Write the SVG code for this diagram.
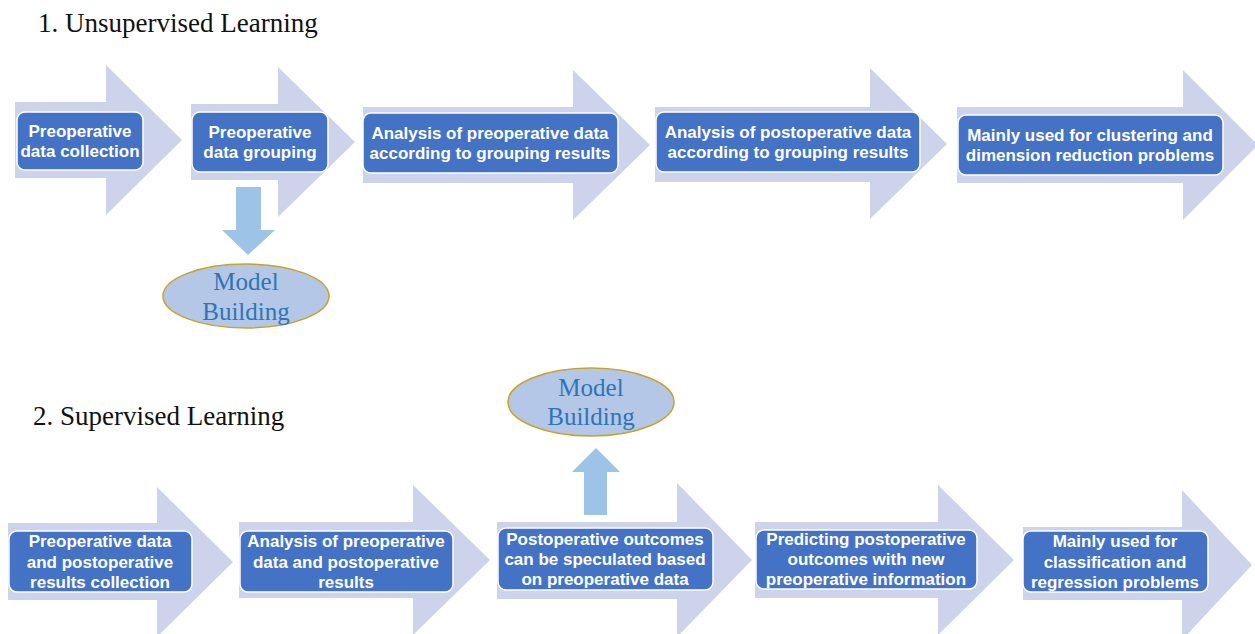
<svg xmlns="http://www.w3.org/2000/svg" width="1255" height="634" viewBox="0 0 1255 634">
  <style>
    .bg { fill: #ffffff; }
    .big { fill: #cdd3ea; }
    .box { fill: #4472c4; stroke: #ffffff; stroke-width: 1.5; }
    .lbl { font-family: "Liberation Sans", Arial, sans-serif; font-weight: bold; font-size: 17px; fill: #ffffff; text-anchor: middle; }
    .title { font-family: "Liberation Serif", "Times New Roman", serif; font-size: 27px; fill: #111111; }
    .ell { fill: #b4c7e7; stroke: #c9a227; stroke-width: 1.5; }
    .elbl { font-family: "Liberation Serif", "Times New Roman", serif; font-size: 25px; fill: #2e75b6; text-anchor: middle; }
    .conn { fill: #9dc3e6; }
  </style>
  <rect class="bg" x="0" y="0" width="1255" height="634"/>

  <text class="title" x="38" y="32">1. Unsupervised Learning</text>
  <text class="title" x="33" y="425">2. Supervised Learning</text>

  <!-- Row 1 -->
  <g id="u1">
    <polygon class="big" points="15,102 106,102 106,65 182,140 106,215 106,178 15,178"/>
    <rect class="box" x="17" y="112" width="126" height="58" rx="8"/>
    <text class="lbl" x="80" y="137">Preoperative</text>
    <text class="lbl" x="80" y="157">data collection</text>
  </g>
  <g id="u2">
    <polygon class="big" points="191,104 278,104 278,67 355,142 278,217 278,180 191,180"/>
    <rect class="box" x="192" y="112" width="136" height="60" rx="8"/>
    <text class="lbl" x="260" y="138">Preoperative</text>
    <text class="lbl" x="260" y="158">data grouping</text>
  </g>
  <g id="u3">
    <polygon class="big" points="363,107 573,107 573,70 650,145 573,220 573,183 363,183"/>
    <rect class="box" x="363" y="113" width="255" height="60" rx="8"/>
    <text class="lbl" x="490" y="139">Analysis of preoperative data</text>
    <text class="lbl" x="490" y="159">according to grouping results</text>
  </g>
  <g id="u4">
    <polygon class="big" points="655,107 870,107 870,68 947,144 870,219 870,182 655,182"/>
    <rect class="box" x="656" y="112" width="264" height="60" rx="8"/>
    <text class="lbl" x="788" y="138">Analysis of postoperative data</text>
    <text class="lbl" x="788" y="158">according to grouping results</text>
  </g>
  <g id="u5">
    <polygon class="big" points="957,107 1183,107 1183,70 1258,145 1183,220 1183,183 957,183"/>
    <rect class="box" x="958" y="115" width="265" height="60" rx="8"/>
    <text class="lbl" x="1090" y="141">Mainly used for clustering and</text>
    <text class="lbl" x="1090" y="161">dimension reduction problems</text>
  </g>
  <g id="model1">
    <ellipse class="ell" cx="246" cy="296" rx="83" ry="32"/>
    <text class="elbl" x="246" y="290">Model</text>
    <text class="elbl" x="246" y="320">Building</text>
  </g>

  <!-- Row 2 -->
  <g id="s1">
    <polygon class="big" points="8,523 157,523 157,487 233,562 157,637 157,600 8,600"/>
    <rect class="box" x="9" y="531" width="183" height="61" rx="8"/>
    <text class="lbl" x="100" y="547">Preoperative data</text>
    <text class="lbl" x="100" y="568">and postoperative</text>
    <text class="lbl" x="100" y="588">results collection</text>
  </g>
  <g id="s2">
    <polygon class="big" points="239,522 413,522 413,485 490,560 413,635 413,598 239,598"/>
    <rect class="box" x="240" y="531" width="213" height="61" rx="8"/>
    <text class="lbl" x="346" y="547">Analysis of preoperative</text>
    <text class="lbl" x="346" y="568">data and postoperative</text>
    <text class="lbl" x="346" y="588">results</text>
  </g>
  <g id="s3">
    <polygon class="big" points="497,522 677,522 677,483 752,560 677,637 677,599 497,599"/>
    <rect class="box" x="498" y="528" width="215" height="62" rx="8"/>
    <text class="lbl" x="605" y="545">Postoperative outcomes</text>
    <text class="lbl" x="605" y="565">can be speculated based</text>
    <text class="lbl" x="605" y="585">on preoperative data</text>
  </g>
  <g id="s4">
    <polygon class="big" points="755,522 938,522 938,485 1014,560 938,635 938,598 755,598"/>
    <rect class="box" x="756" y="530" width="221" height="59" rx="8"/>
    <text class="lbl" x="866" y="545">Predicting postoperative</text>
    <text class="lbl" x="866" y="565">outcomes with new</text>
    <text class="lbl" x="866" y="585">preoperative information</text>
  </g>
  <g id="s5">
    <polygon class="big" points="1023,527 1182,527 1182,490 1252,565 1182,640 1182,600 1023,600"/>
    <rect class="box" x="1023" y="531" width="185" height="61" rx="8"/>
    <text class="lbl" x="1115" y="547">Mainly used for</text>
    <text class="lbl" x="1115" y="568">classification and</text>
    <text class="lbl" x="1115" y="588">regression problems</text>
  </g>
  <g id="model2">
    <ellipse class="ell" cx="591" cy="402" rx="83" ry="34"/>
    <text class="elbl" x="591" y="396">Model</text>
    <text class="elbl" x="591" y="425">Building</text>
  </g>

  <g id="connectors">
    <polygon class="conn" points="236,187 261,187 261,230 275,230 248,255 222,230 236,230"/>
    <polygon class="conn" points="584,515 607,515 607,472 620,472 596,448 572,472 584,472"/>
  </g>
</svg>
